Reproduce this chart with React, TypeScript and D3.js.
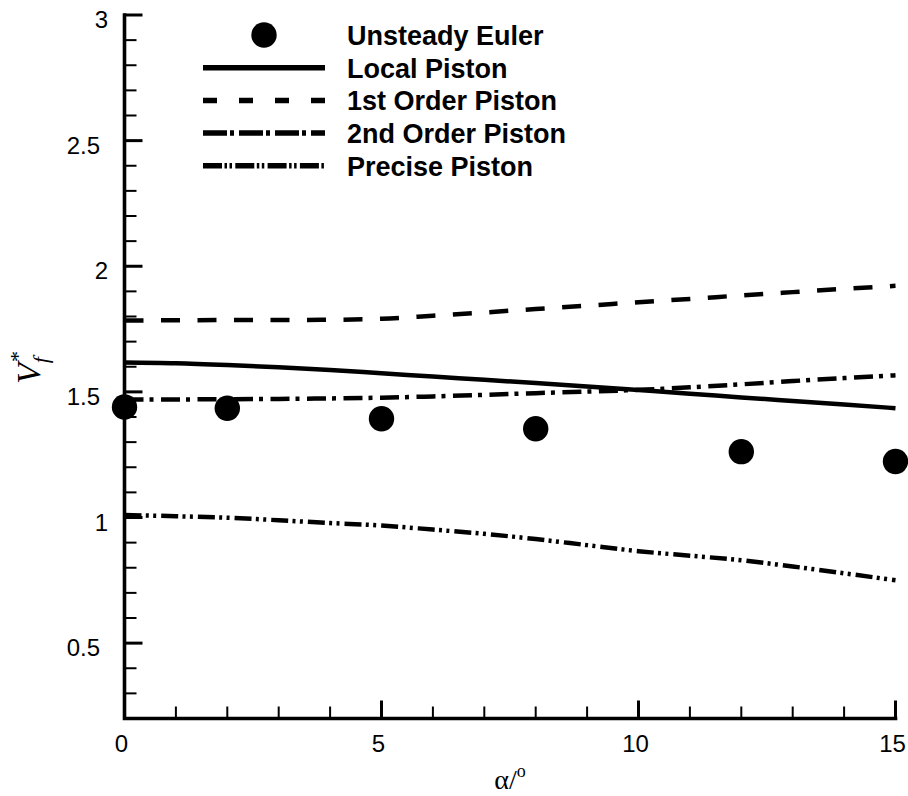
import React from "react";
import * as d3 from "d3";

const W = 908;
const H = 796;

// angle of attack grid (deg) for the piston-theory curves
const alphaGrid = [0, 1, 2, 3, 4, 5, 6, 7, 8, 9, 10, 11, 12, 13, 14, 15];
const localPiston = [1.617, 1.614, 1.607, 1.598, 1.587, 1.574, 1.561, 1.548, 1.535, 1.521, 1.507, 1.493, 1.478, 1.464, 1.45, 1.435];
const firstOrderPiston = [1.784, 1.785, 1.786, 1.786, 1.787, 1.791, 1.803, 1.816, 1.83, 1.843, 1.857, 1.87, 1.884, 1.897, 1.91, 1.922];
const secondOrderPiston = [1.47, 1.47, 1.471, 1.472, 1.474, 1.477, 1.482, 1.488, 1.495, 1.501, 1.508, 1.518, 1.53, 1.543, 1.555, 1.566];
const precisePiston = [1.01, 1.005, 0.999, 0.989, 0.978, 0.968, 0.952, 0.935, 0.914, 0.89, 0.866, 0.848, 0.83, 0.805, 0.778, 0.75];

// unsteady Euler reference points
const eulerAlpha = [0, 2, 5, 8, 12, 15];
const eulerV = [1.44, 1.435, 1.393, 1.353, 1.262, 1.223];

const xTicks = [0, 5, 10, 15];
const yTicks = [0.5, 1, 1.5, 2, 2.5, 3];
const legendLabels = ["Unsteady Euler", "Local Piston", "1st Order Piston", "2nd Order Piston", "Precise Piston"];

const x = d3.scaleLinear().domain([0, 15]).range([124.5, 895.5]);
const y = d3.scaleLinear().domain([0.2, 3]).range([718.5, 15]);

const series = [
  { values: localPiston, dash: "none", legendDash: "none" },
  { values: firstOrderPiston, dash: "19 17.5", legendDash: "14 22" },
  { values: secondOrderPiston, dash: "19 6 4 7.5", legendDash: "24 3 4 5" },
  { values: precisePiston, dash: "17 4.3 3 4.4 3 5", legendDash: "19 2.5 2.5 2.5 2.5 3.3" },
];

const line = d3
  .line<[number, number]>()
  .x((d) => x(d[0]))
  .y((d) => y(d[1]))
  .curve(d3.curveMonotoneX);

const SANS = "'Liberation Sans', Arial, Helvetica, sans-serif";
const SERIF = "'Liberation Serif', 'Times New Roman', serif";

export default function App() {
  const xMinor = d3.range(0, 15.001, 1).filter((v) => !xTicks.includes(v));
  const yMinor = d3
    .range(3, 6)
    .concat(d3.range(6, 30))
    .map((v) => v / 10)
    .filter((v) => !yTicks.some((t) => Math.abs(t - v) < 1e-9));

  const x0 = x(0);
  const yBase = y(0.2);
  const legX0 = 203;
  const legX1 = 325;
  const legTextX = 347;
  const legRowY = (i: number) => 35 + i * 32.7;

  return (
    <svg
      width={W}
      height={H}
      style={{ position: "absolute", left: 0, top: 0, display: "block", background: "#fff" }}
    >
      {/* data curves */}
      {series.map((s, i) => (
        <path
          key={i}
          d={line(alphaGrid.map((a, j) => [a, s.values[j]]) as [number, number][]) || ""}
          fill="none"
          stroke="#000"
          strokeWidth={4.5}
          strokeDasharray={s.dash}
        />
      ))}

      {/* Euler points */}
      {eulerAlpha.map((a, i) => (
        <circle key={i} cx={x(a)} cy={y(eulerV[i])} r={12.7} fill="#000" />
      ))}

      {/* axes */}
      <path
        d={`M${x0},${y(3)}V${yBase}H${x(15)}`}
        fill="none"
        stroke="#000"
        strokeWidth={3.6}
        strokeLinecap="square"
      />
      {xTicks.map((t) => (
        <line key={"xM" + t} x1={x(t)} x2={x(t)} y1={yBase} y2={yBase - 18} stroke="#000" strokeWidth={3} />
      ))}
      {xMinor.map((t) => (
        <line key={"xm" + t} x1={x(t)} x2={x(t)} y1={yBase} y2={yBase - 12} stroke="#000" strokeWidth={2} />
      ))}
      {yTicks.map((t) => (
        <line key={"yM" + t} x1={x0} x2={x0 + 18} y1={y(t)} y2={y(t)} stroke="#000" strokeWidth={3} />
      ))}
      {yMinor.map((t) => (
        <line key={"ym" + t} x1={x0} x2={x0 + 12} y1={y(t)} y2={y(t)} stroke="#000" strokeWidth={2} />
      ))}

      {/* tick labels */}
      {xTicks.map((t) => (
        <text
          key={"xl" + t}
          x={x(t) - 3}
          y={752}
          textAnchor="middle"
          fontFamily={SANS}
          fontSize={24}
          fill="#000"
        >
          {d3.format("~g")(t)}
        </text>
      ))}
      {yTicks.map((t) => (
        <text
          key={"yl" + t}
          x={Number.isInteger(t) ? 108 : 100}
          y={y(t) + 13}
          textAnchor="end"
          fontFamily={SANS}
          fontSize={24}
          fill="#000"
        >
          {d3.format("~g")(t)}
        </text>
      ))}

      {/* axis titles */}
      <text
        transform="translate(40,384) rotate(-90)"
        fontFamily={SERIF}
        fontStyle="italic"
        fontSize={34}
        fill="#000"
      >
        V
        <tspan fontSize={22} dy={8}>f</tspan>
        <tspan fontSize={22} dx={-6} dy={-23}>*</tspan>
      </text>
      <text x={510} y={789} textAnchor="middle" fontFamily={SERIF} fontSize={28} fill="#000">
        α/
        <tspan fontSize={18} dy={-12}>o</tspan>
      </text>

      {/* legend */}
      <circle cx={(legX0 + legX1) / 2} cy={legRowY(0)} r={12.7} fill="#000" />
      {series.map((s, i) => (
        <line
          key={"lg" + i}
          x1={legX0}
          x2={legX1}
          y1={legRowY(i + 1)}
          y2={legRowY(i + 1)}
          stroke="#000"
          strokeWidth={5.5}
          strokeDasharray={s.legendDash}
        />
      ))}
      {legendLabels.map((lab, i) => (
        <text
          key={"lt" + i}
          x={legTextX}
          y={legRowY(i) + 10}
          fontFamily={SANS}
          fontWeight="bold"
          fontSize={27}
          fill="#000"
        >
          {lab}
        </text>
      ))}
    </svg>
  );
}
